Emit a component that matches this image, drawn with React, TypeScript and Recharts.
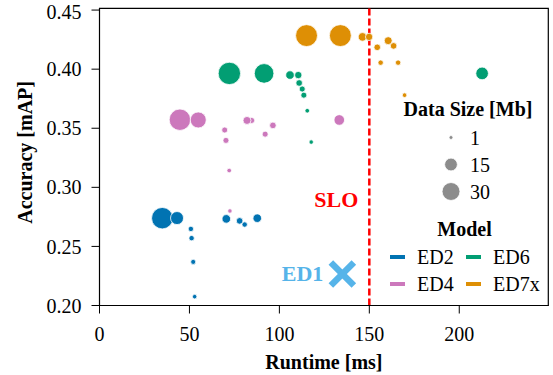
import { ScatterChart, Scatter, XAxis, YAxis, ZAxis, ReferenceLine, ReferenceArea, Legend } from 'recharts';

// runtime [ms], accuracy [mAP], data size [Mb]
const ed2 = [
  { runtime: 34.9, accuracy: 0.2739, size: 43 },
  { runtime: 43.1, accuracy: 0.274, size: 15.6 },
  { runtime: 50.8, accuracy: 0.2648, size: 2.3 },
  { runtime: 51.2, accuracy: 0.257, size: 2.3 },
  { runtime: 52.1, accuracy: 0.2369, size: 2 },
  { runtime: 52.9, accuracy: 0.2075, size: 1.5 },
  { runtime: 70.5, accuracy: 0.2733, size: 6.5 },
  { runtime: 77.9, accuracy: 0.2716, size: 3.7 },
  { runtime: 80.7, accuracy: 0.2685, size: 2.3 },
  { runtime: 87.7, accuracy: 0.2739, size: 6.5 },
];

const ed4 = [
  { runtime: 44.7, accuracy: 0.3572, size: 43 },
  { runtime: 54.9, accuracy: 0.357, size: 23.8 },
  { runtime: 69.6, accuracy: 0.3485, size: 3 },
  { runtime: 70.3, accuracy: 0.3397, size: 3 },
  { runtime: 84.6, accuracy: 0.3566, size: 3 },
  { runtime: 82.0, accuracy: 0.3566, size: 5.6 },
  { runtime: 96.4, accuracy: 0.3524, size: 3.7 },
  { runtime: 92.1, accuracy: 0.345, size: 3 },
  { runtime: 72.1, accuracy: 0.3142, size: 1.6 },
  { runtime: 72.5, accuracy: 0.28, size: 1.4 },
  { runtime: 133.3, accuracy: 0.357, size: 10.2 },
];

const ed6 = [
  { runtime: 72.2, accuracy: 0.3964, size: 47 },
  { runtime: 91.5, accuracy: 0.3964, size: 36 },
  { runtime: 105.9, accuracy: 0.395, size: 6.5 },
  { runtime: 110.5, accuracy: 0.395, size: 4.7 },
  { runtime: 111.0, accuracy: 0.3883, size: 3.7 },
  { runtime: 112.7, accuracy: 0.3832, size: 3 },
  { runtime: 113.6, accuracy: 0.378, size: 3 },
  { runtime: 115.5, accuracy: 0.3648, size: 1.6 },
  { runtime: 117.7, accuracy: 0.3383, size: 1.4 },
  { runtime: 212.7, accuracy: 0.3964, size: 14.6 },
];

const ed7x = [
  { runtime: 115.1, accuracy: 0.4284, size: 45 },
  { runtime: 133.9, accuracy: 0.4284, size: 45 },
  { runtime: 146.2, accuracy: 0.4273, size: 6.5 },
  { runtime: 149.9, accuracy: 0.4273, size: 4.7 },
  { runtime: 154.4, accuracy: 0.4185, size: 3.7 },
  { runtime: 160.5, accuracy: 0.4241, size: 5.6 },
  { runtime: 163.5, accuracy: 0.4197, size: 3.7 },
  { runtime: 156.3, accuracy: 0.4055, size: 2.3 },
  { runtime: 166.0, accuracy: 0.4055, size: 2.3 },
  { runtime: 169.6, accuracy: 0.378, size: 1.6 },
];

const ed1 = [{ runtime: 135, accuracy: 0.2267 }];

const models = ['ED2', 'ED4', 'ED6', 'ED7x'];
const modelData = [ed2, ed4, ed6, ed7x];
const modelColors = ['#0173b2', '#cc78bc', '#029e73', '#de8f05'];
const ED1_COLOR = '#56b4e9';

const sizeLegend = [1, 15, 30];
const xTicks = [0, 50, 100, 150, 200];
const yTicks = [0.2, 0.25, 0.3, 0.35, 0.4, 0.45];
const SLO = 150;

const SIZE_DOMAIN = [0, 50];
const AREA_RANGE = [3.7, 418.7];
const FONT = 'Liberation Serif, Tinos, Times New Roman, DejaVu Serif, serif';

// same linear size -> area mapping ZAxis uses, for the legend bubbles
const markerRadius = (mb: number) => {
  const area =
    AREA_RANGE[0] +
    ((mb - SIZE_DOMAIN[0]) * (AREA_RANGE[1] - AREA_RANGE[0])) / (SIZE_DOMAIN[1] - SIZE_DOMAIN[0]);
  return Math.sqrt(area / Math.PI);
};

const CrossShape = (props: any) => {
  const { cx, cy } = props;
  const h = 11.5;
  return (
    <g>
      <line x1={cx - h} y1={cy - h} x2={cx + h} y2={cy + h} stroke={ED1_COLOR} strokeWidth={6.5} />
      <line x1={cx - h} y1={cy + h} x2={cx + h} y2={cy - h} stroke={ED1_COLOR} strokeWidth={6.5} />
      <text
        x={cx - 19}
        y={cy + 7}
        textAnchor="end"
        fontSize={22}
        fontWeight="bold"
        fill={ED1_COLOR}
        style={{ fontFamily: FONT }}
      >
        ED1
      </text>
    </g>
  );
};

const SloLabel = (props: any) => {
  const { viewBox } = props;
  return (
    <text
      x={viewBox.x - 11}
      y={viewBox.y + viewBox.height * 0.669}
      textAnchor="end"
      fontSize={22}
      fontWeight="bold"
      fill="#ff0000"
      style={{ fontFamily: FONT }}
    >
      SLO
    </text>
  );
};

const YLabel = (props: any) => {
  const { viewBox } = props;
  const x = viewBox.x + 31.7;
  const y = viewBox.y + viewBox.height / 2 - 4.5;
  return (
    <text
      x={x}
      y={y}
      transform={`rotate(-90 ${x} ${y})`}
      textAnchor="middle"
      fontSize={20}
      fontWeight="bold"
      fill="#000"
      style={{ fontFamily: FONT }}
    >
      Accuracy [mAP]
    </text>
  );
};

const LegendBlock = () => {
  const rows = [137.5, 164.5, 191.5];
  const cols = [390, 466];
  const modelRows = [257, 284];
  return (
    <svg width={553} height={375} style={{ position: 'absolute', left: 0, top: 0, fontFamily: FONT }}>
      <text x={468} y={116} textAnchor="middle" fontSize={20} fontWeight="bold" fill="#000">
        Data Size [Mb]
      </text>
      {sizeLegend.map((s, i) => (
        <g key={s}>
          <circle cx={451} cy={rows[i]} r={markerRadius(s)} fill="#8c8c8c" stroke="#fff" strokeWidth={0.8} />
          <text x={470} y={rows[i] + 7} fontSize={20} fill="#000">
            {s}
          </text>
        </g>
      ))}
      <text x={464.5} y={236} textAnchor="middle" fontSize={20} fontWeight="bold" fill="#000">
        Model
      </text>
      {models.map((m, i) => {
        const col = Math.floor(i / 2);
        const row = i % 2;
        const x = cols[col];
        const y = modelRows[row];
        return (
          <g key={m}>
            <line x1={x} y1={y} x2={x + 15} y2={y} stroke={modelColors[i]} strokeWidth={4} />
            <text x={x + 27} y={y + 7} fontSize={20} fill="#000">
              {m}
            </text>
          </g>
        );
      })}
    </svg>
  );
};

export default function App() {
  return (
    <div style={{ position: 'absolute', left: 0, top: 0, width: 553, height: 375, fontFamily: FONT, background: '#fff' }}>
      <ScatterChart
        width={553}
        height={375}
        margin={{ top: 8.3, right: 4.7, bottom: 0, left: 0 }}
        style={{ fontFamily: FONT }}
      >
        <XAxis
          type="number"
          dataKey="runtime"
          domain={[0, 249.5]}
          ticks={xTicks}
          allowDataOverflow
          height={69.5}
          tickSize={8}
          tickMargin={13}
          stroke="#000"
          tick={{ fill: '#000', fontSize: 20, style: { fontFamily: FONT } }}
          label={{
            value: 'Runtime [ms]',
            position: 'insideBottom',
            offset: 6,
            fill: '#000',
            fontSize: 20,
            fontWeight: 'bold',
            style: { fontFamily: FONT },
          }}
        />
        <YAxis
          type="number"
          dataKey="accuracy"
          domain={[0.2, 0.4515]}
          ticks={yTicks}
          allowDataOverflow
          width={99.5}
          tickSize={8}
          tickMargin={10}
          stroke="#000"
          tickFormatter={(v: number) => v.toFixed(2)}
          tick={{ fill: '#000', fontSize: 20, style: { fontFamily: FONT } }}
          label={{ content: YLabel }}
        />
        <ZAxis type="number" dataKey="size" domain={SIZE_DOMAIN} range={AREA_RANGE} />
        {modelData.map((d, i) => (
          <Scatter
            key={models[i]}
            name={models[i]}
            data={d}
            fill={modelColors[i]}
            stroke="#fff"
            strokeWidth={0.8}
            isAnimationActive={false}
          />
        ))}
        <Scatter
          name="ED1"
          data={ed1}
          legendType="none"
          shape={CrossShape}
          isAnimationActive={false}
        />
        <ReferenceLine
          x={SLO}
          stroke="#ff0000"
          strokeWidth={2.5}
          strokeDasharray="7 3"
          label={{ content: SloLabel }}
        />
        <ReferenceArea
          x1={0}
          x2={249.5}
          y1={0.2}
          y2={0.4515}
          fill="none"
          stroke="#000"
          strokeWidth={1.2}
          ifOverflow="visible"
        />
        <Legend
          layout="horizontal"
          verticalAlign="middle"
          align="center"
          content={() => <LegendBlock />}
          wrapperStyle={{ position: 'absolute', left: 0, top: 0, width: 553, height: 375, pointerEvents: 'none' }}
        />
      </ScatterChart>
    </div>
  );
}
